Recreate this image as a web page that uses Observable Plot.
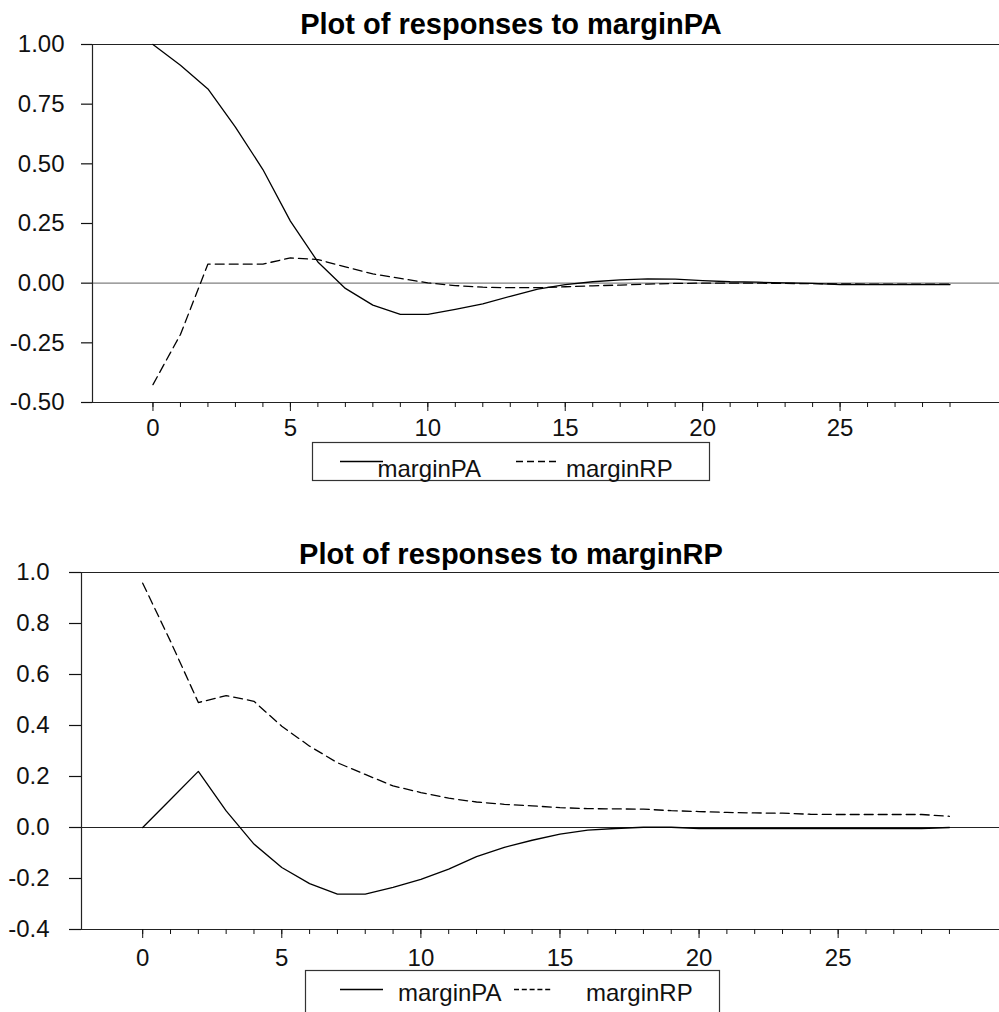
<!DOCTYPE html>
<html>
<head>
<meta charset="utf-8">
<script src="https://cdn.jsdelivr.net/npm/d3@7"></script>
<script src="https://cdn.jsdelivr.net/npm/@observablehq/plot@0.6"></script>
<style>
  html, body { margin: 0; padding: 0; background: #fff; }
  #page { position: relative; width: 999px; height: 1012px; overflow: hidden; background: #fff; }
  .chart { position: absolute; left: 0; }
  #overlay { position: absolute; left: 0; top: 0; }
</style>
</head>
<body>
<div id="page">
  <div id="c1" class="chart" style="top:0px"></div>
  <div id="c2" class="chart" style="top:528px"></div>
</div>
<script>
// ---- Data ----
const periods = [0,1,2,3,4,5,6,7,8,9,10,11,12,13,14,15,16,17,18,19,20,21,22,23,24,25,26,27,28,29];
const seriesNames = ["marginPA", "marginRP"];
const titles = ["Plot of responses to marginPA", "Plot of responses to marginRP"];

// Responses to marginPA
const respPA_marginPA = [1.00, 0.913, 0.814, 0.654, 0.476, 0.26, 0.089, -0.022, -0.092, -0.131, -0.131, -0.110, -0.087, -0.055, -0.025, -0.006, 0.006, 0.014, 0.018, 0.017, 0.011, 0.006, 0.004, 0.001, -0.001, -0.006, -0.006, -0.006, -0.006, -0.006];
const respPA_marginRP = [-0.425, -0.215, 0.08, 0.08, 0.08, 0.106, 0.099, 0.068, 0.039, 0.02, 0.001, -0.01, -0.017, -0.019, -0.019, -0.015, -0.011, -0.008, -0.004, -0.001, 0.0, 0.0, 0.0, -0.001, -0.002, -0.003, -0.004, -0.004, -0.004, -0.004];

// Responses to marginRP
const respRP_marginPA = [0.0, 0.11, 0.22, 0.065, -0.065, -0.157, -0.22, -0.261, -0.261, -0.235, -0.203, -0.163, -0.114, -0.078, -0.05, -0.026, -0.01, -0.004, 0.001, 0.001, -0.004, -0.004, -0.004, -0.004, -0.004, -0.004, -0.004, -0.004, -0.004, 0.0];
const respRP_marginRP = [0.958, 0.73, 0.49, 0.517, 0.495, 0.397, 0.319, 0.254, 0.208, 0.163, 0.137, 0.115, 0.10, 0.091, 0.085, 0.078, 0.074, 0.073, 0.072, 0.066, 0.0625, 0.059, 0.057, 0.056, 0.052, 0.051, 0.051, 0.051, 0.051, 0.044];

// Tick labels
const xMajorTicks = [0, 5, 10, 15, 20, 25];
const xMinorTicks = periods;
const yTicksTop = [-0.5, -0.25, 0, 0.25, 0.5, 0.75, 1.0];
const yTicksBottom = [-0.4, -0.2, 0, 0.2, 0.4, 0.6, 0.8, 1.0];

// ---- Build tables ----
function rows(values, name) {
  return periods.map((p, i) => ({period: p, value: values[i], series: name}));
}

const FONT = "'Liberation Sans', Arial, Helvetica, sans-serif";
const FS = 24;
const xDomain = [-2.2, 30.8];

function makeChart(cfg) {
  return Plot.plot({
    width: 999,
    height: cfg.height,
    marginTop: 44,
    marginBottom: cfg.height - 44 - cfg.plotH,
    marginLeft: cfg.marginLeft,
    marginRight: 0,
    x: {domain: xDomain, label: null},
    y: {domain: cfg.yDomain, label: null},
    style: {fontFamily: FONT, fontSize: FS + "px", color: "#111", background: "transparent", overflow: "visible"},
    marks: [
      Plot.ruleY([0], {stroke: cfg.zeroColor, strokeWidth: 1.2}),
      Plot.ruleY(cfg.yDomain, {stroke: "#222", strokeWidth: 1.2}),
      Plot.ruleX([xDomain[0]], {stroke: "#222", strokeWidth: 1.2}),
      Plot.axisY({ticks: cfg.yTicks, tickSize: cfg.tickLen, tickPadding: cfg.tickPad,
        tickFormat: d => d.toFixed(cfg.digits), fontSize: FS, label: null, strokeWidth: 1.2}),
      Plot.axisX({ticks: xMinorTicks, tickSize: 5, tickFormat: () => "", label: null}),
      Plot.axisX({ticks: xMajorTicks, tickSize: 9, tickPadding: cfg.xPad, fontSize: FS, label: null,
        tickFormat: d => String(d)}),
      Plot.line(rows(cfg.pa, seriesNames[0]), {x: "period", y: "value", stroke: "#000", strokeWidth: 1.3}),
      Plot.line(rows(cfg.rp, seriesNames[1]), {x: "period", y: "value", stroke: "#000", strokeWidth: 1.3, strokeDasharray: "9,5"})
    ]
  });
}

document.getElementById("c1").appendChild(makeChart({
  height: 440, plotH: 358, marginLeft: 92, yDomain: [-0.5, 1.0], yTicks: yTicksTop,
  tickLen: 11, tickPad: 17, digits: 2, xPad: 7, zeroColor: "#808080",
  pa: respPA_marginPA, rp: respPA_marginRP
}));

document.getElementById("c2").appendChild(makeChart({
  height: 441, plotH: 357, marginLeft: 81, yDomain: [-0.4, 1.0], yTicks: yTicksBottom,
  tickLen: 12, tickPad: 20, digits: 1, xPad: 10, zeroColor: "#222",
  pa: respRP_marginPA, rp: respRP_marginRP
}));

// ---- Titles and legends (overlay) ----
const svgNS = "http://www.w3.org/2000/svg";
const ov = document.createElementNS(svgNS, "svg");
ov.setAttribute("id", "overlay");
ov.setAttribute("width", 999);
ov.setAttribute("height", 1012);
ov.setAttribute("font-family", FONT);
document.getElementById("page").appendChild(ov);

function el(tag, attrs, text) {
  const e = document.createElementNS(svgNS, tag);
  for (const k in attrs) e.setAttribute(k, attrs[k]);
  if (text != null) e.textContent = text;
  ov.appendChild(e);
  return e;
}

// Titles
el("text", {x: 511, y: 34, "text-anchor": "middle", "font-size": 29, "font-weight": "bold", fill: "#000"}, titles[0]);
el("text", {x: 511, y: 564, "text-anchor": "middle", "font-size": 29, "font-weight": "bold", fill: "#000"}, titles[1]);

// Legend 1
el("rect", {x: 312.5, y: 442.5, width: 397, height: 38, fill: "#fff", stroke: "#333", "stroke-width": 1.2});
el("line", {x1: 340, x2: 383, y1: 461.5, y2: 461.5, stroke: "#000", "stroke-width": 1.3});
el("text", {x: 377.5, y: 477, "font-size": FS, fill: "#111"}, seriesNames[0]);
el("line", {x1: 516, x2: 557, y1: 461.5, y2: 461.5, stroke: "#000", "stroke-width": 1.3, "stroke-dasharray": "7,4"});
el("text", {x: 566, y: 477, "font-size": FS, fill: "#111"}, seriesNames[1]);

// Legend 2
el("rect", {x: 305.5, y: 970.5, width: 414, height: 60, fill: "#fff", stroke: "#333", "stroke-width": 1.2});
el("line", {x1: 340, x2: 383, y1: 989.5, y2: 989.5, stroke: "#000", "stroke-width": 1.3});
el("text", {x: 398, y: 1001, "font-size": FS, fill: "#111"}, seriesNames[0]);
el("line", {x1: 514, x2: 551, y1: 989.5, y2: 989.5, stroke: "#000", "stroke-width": 1.3, "stroke-dasharray": "5,2.8"});
el("text", {x: 586, y: 1001, "font-size": FS, fill: "#111"}, seriesNames[1]);
</script>
</body>
</html>
